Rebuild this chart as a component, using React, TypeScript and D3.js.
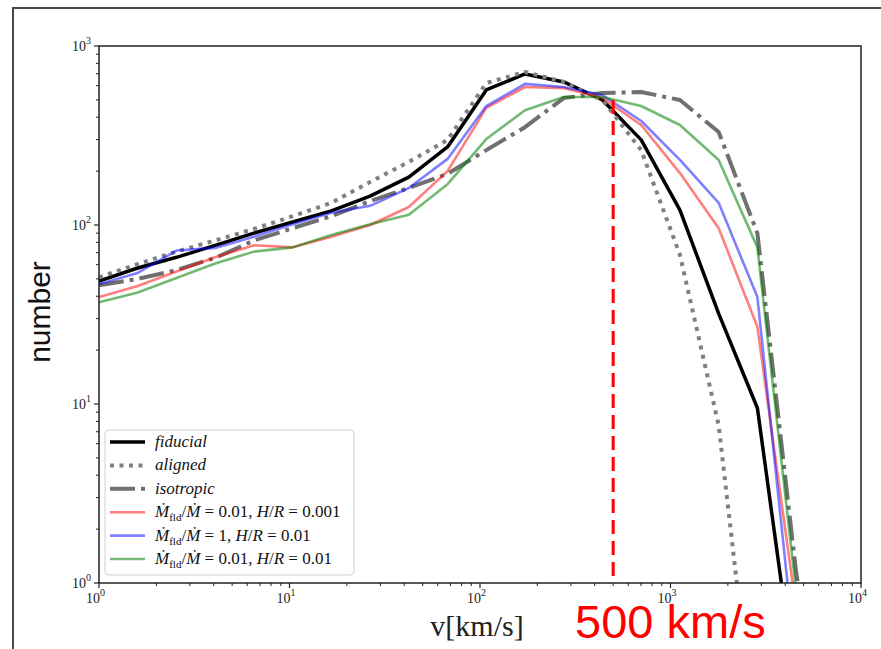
import React from "react";
import * as d3 from "d3";

// velocity bins (km/s)
const velocity = [1.0, 1.597, 2.551, 4.073, 6.505, 10.39, 16.59, 26.49, 42.31, 67.56, 107.9, 172.3, 275.2, 439.4, 701.8, 1121, 1790, 2858, 4564, 7289];

const fiducial = [48.6, 57.5, 66, 77, 90, 104, 120, 145, 185, 273, 568, 698, 630, 499, 299, 121, 32, 9.5, 0.25];
const aligned = [51, 60.5, 71, 82, 95, 112, 133, 174, 225, 299, 621, 716, 630, 499, 262, 68, 7.6, 0.1];
const isotropic = [46, 50, 56, 65.5, 82, 96, 112, 136, 161, 193, 262, 352, 512, 546, 553, 499, 331, 90, 1.15, 0.05];
const redSeries = [39.6, 45.6, 55, 66, 77, 75, 86, 100, 126, 200, 451, 590, 582, 512, 362, 195, 96, 27, 0.72];
const blueSeries = [46.8, 54, 72, 74.5, 86, 101, 117, 128, 161, 234, 462, 614, 590, 532, 381, 231, 133, 39.6, 0.35];
const greenSeries = [37, 42, 50.6, 61, 71, 75, 88, 101, 114, 169, 302, 438, 519, 519, 462, 362, 231, 75, 0.9];

const xTicks = [1, 10, 100, 1000, 10000];
const xTickExp = ["0", "1", "2", "3", "4"];
const yTicks = [1, 10, 100, 1000];
const yTickExp = ["0", "1", "2", "3"];
const cutoffV = 500;
const cutoffTop = 500;

const W = 881, H = 649;
const L = 99, R = 861, T = 46, B = 583;

const x = d3.scaleLog().domain([1, 1e4]).range([L, R]);
const y = d3.scaleLog().domain([1, 1000]).range([B, T]);

const lineGen = d3
  .line<[number, number]>()
  .x((d) => x(d[0]))
  .y((d) => y(d[1]));

function pts(vals: number[]): [number, number][] {
  return vals.map((v, i) => [velocity[i], v]);
}

type Style = { stroke: string; width: number; dash?: string };

const series: { key: string; vals: number[]; style: Style }[] = [
  { key: "fid", vals: fiducial, style: { stroke: "#000", width: 3.5 } },
  { key: "ali", vals: aligned, style: { stroke: "#808080", width: 4, dash: "4 5.5" } },
  { key: "iso", vals: isotropic, style: { stroke: "#707070", width: 4, dash: "25 6 4 6" } },
  { key: "red", vals: redSeries, style: { stroke: "rgba(255,0,0,0.5)", width: 2.6 } },
  { key: "blue", vals: blueSeries, style: { stroke: "rgba(0,0,255,0.5)", width: 2.6 } },
  { key: "green", vals: greenSeries, style: { stroke: "rgba(0,128,0,0.55)", width: 2.6 } },
];

function minorTicks(lo: number, hi: number): number[] {
  const out: number[] = [];
  for (let p = lo; p < hi; p *= 10) for (let m = 2; m <= 9; m++) out.push(p * m);
  return out;
}

const serif = "'Liberation Serif', 'DejaVu Serif', serif";

function MathLabel({ a, b }: { a: string; b: string }) {
  return (
    <>
      <tspan fontStyle="italic">Ṁ</tspan>
      <tspan fontSize={11} dy={4}>fld</tspan>
      <tspan dy={-4}>/</tspan>
      <tspan fontStyle="italic">Ṁ</tspan>
      <tspan>{" = " + a + ", "}</tspan>
      <tspan fontStyle="italic">H</tspan>
      <tspan>/</tspan>
      <tspan fontStyle="italic">R</tspan>
      <tspan>{" = " + b}</tspan>
    </>
  );
}

export default function App() {
  const xMinor = minorTicks(1, 1e4);
  const yMinor = minorTicks(1, 1000);
  const legendRows = [
    { style: series[0].style, label: <tspan fontStyle="italic">fiducial</tspan> },
    { style: series[1].style, label: <tspan fontStyle="italic">aligned</tspan> },
    { style: series[2].style, label: <tspan fontStyle="italic">isotropic</tspan> },
    { style: series[3].style, label: <MathLabel a="0.01" b="0.001" /> },
    { style: series[4].style, label: <MathLabel a="1" b="0.01" /> },
    { style: series[5].style, label: <MathLabel a="0.01" b="0.01" /> },
  ];
  const legX = 105, legY = 430, legW = 249, legH = 145;
  const rowY0 = 442, rowDy = 23.4;

  return (
    <svg width={W} height={H} style={{ position: "absolute", left: 0, top: 0, background: "#fff" }}>
      <rect x={13} y={8} width={900} height={700} fill="none" stroke="#4a4a4a" strokeWidth={2} />
      <defs>
        <clipPath id="plotclip">
          <rect x={L} y={T} width={R - L} height={B - T} />
        </clipPath>
      </defs>

      <g clipPath="url(#plotclip)">
        {series.map((s) => (
          <path
            key={s.key}
            d={lineGen(pts(s.vals)) || ""}
            fill="none"
            stroke={s.style.stroke}
            strokeWidth={s.style.width}
            strokeDasharray={s.style.dash}
            strokeLinejoin="round"
          />
        ))}
        <line
          x1={x(cutoffV)}
          x2={x(cutoffV)}
          y1={y(cutoffTop)}
          y2={y(1)}
          stroke="#ff0000"
          strokeWidth={3}
          strokeDasharray="14 7"
        />
      </g>

      {/* legend */}
      <rect x={legX} y={legY} width={legW} height={legH} rx={4} fill="rgba(255,255,255,0.85)" stroke="#d0d0d0" strokeWidth={1} />
      {legendRows.map((r, i) => {
        const yy = rowY0 + i * rowDy;
        return (
          <g key={i}>
            <line
              x1={110}
              x2={145}
              y1={yy}
              y2={yy}
              stroke={r.style.stroke}
              strokeWidth={r.style.width}
              strokeDasharray={r.style.dash}
            />
            <text x={155} y={yy + 5} fontFamily={serif} fontSize={17} fill="#111">
              {r.label}
            </text>
          </g>
        );
      })}

      {/* frame */}
      <rect x={L} y={T} width={R - L} height={B - T} fill="none" stroke="#222" strokeWidth={1.5} />

      {/* x ticks */}
      {xTicks.map((t, i) => (
        <g key={"xt" + i}>
          <line x1={x(t)} x2={x(t)} y1={B} y2={B + 5} stroke="#222" strokeWidth={1.2} />
          <text x={x(t) + 1} y={B + 20} fontFamily={serif} fontSize={14} textAnchor="end" fill="#222">
            10
          </text>
          <text x={x(t) + 1} y={B + 13} fontFamily={serif} fontSize={10} fill="#222">
            {xTickExp[i]}
          </text>
        </g>
      ))}
      {xMinor.map((t, i) => (
        <line key={"xm" + i} x1={x(t)} x2={x(t)} y1={B} y2={B + 3} stroke="#222" strokeWidth={1} />
      ))}

      {/* y ticks */}
      {yTicks.map((t, i) => (
        <g key={"yt" + i}>
          <line x1={L - 5} x2={L} y1={y(t)} y2={y(t)} stroke="#222" strokeWidth={1.2} />
          <text x={L - 13} y={y(t) + 5} fontFamily={serif} fontSize={14} textAnchor="end" fill="#222">
            10
          </text>
          <text x={L - 13} y={y(t) - 2} fontFamily={serif} fontSize={10} fill="#222">
            {yTickExp[i]}
          </text>
        </g>
      ))}
      {yMinor.map((t, i) => (
        <line key={"ym" + i} x1={L - 3} x2={L} y1={y(t)} y2={y(t)} stroke="#222" strokeWidth={1} />
      ))}

      {/* axis labels */}
      <text x={477} y={636} fontFamily={serif} fontSize={30} textAnchor="middle" fill="#222">
        v[km/s]
      </text>
      <text
        transform="translate(50,312) rotate(-90)"
        fontFamily="'Liberation Sans', Arial, sans-serif"
        fontSize={30}
        textAnchor="middle"
        fill="#111"
      >
        number
      </text>
      <text x={575} y={638} fontFamily="'Liberation Sans', Arial, sans-serif" fontSize={47} fill="#ff0000">
        500 km/s
      </text>
    </svg>
  );
}
